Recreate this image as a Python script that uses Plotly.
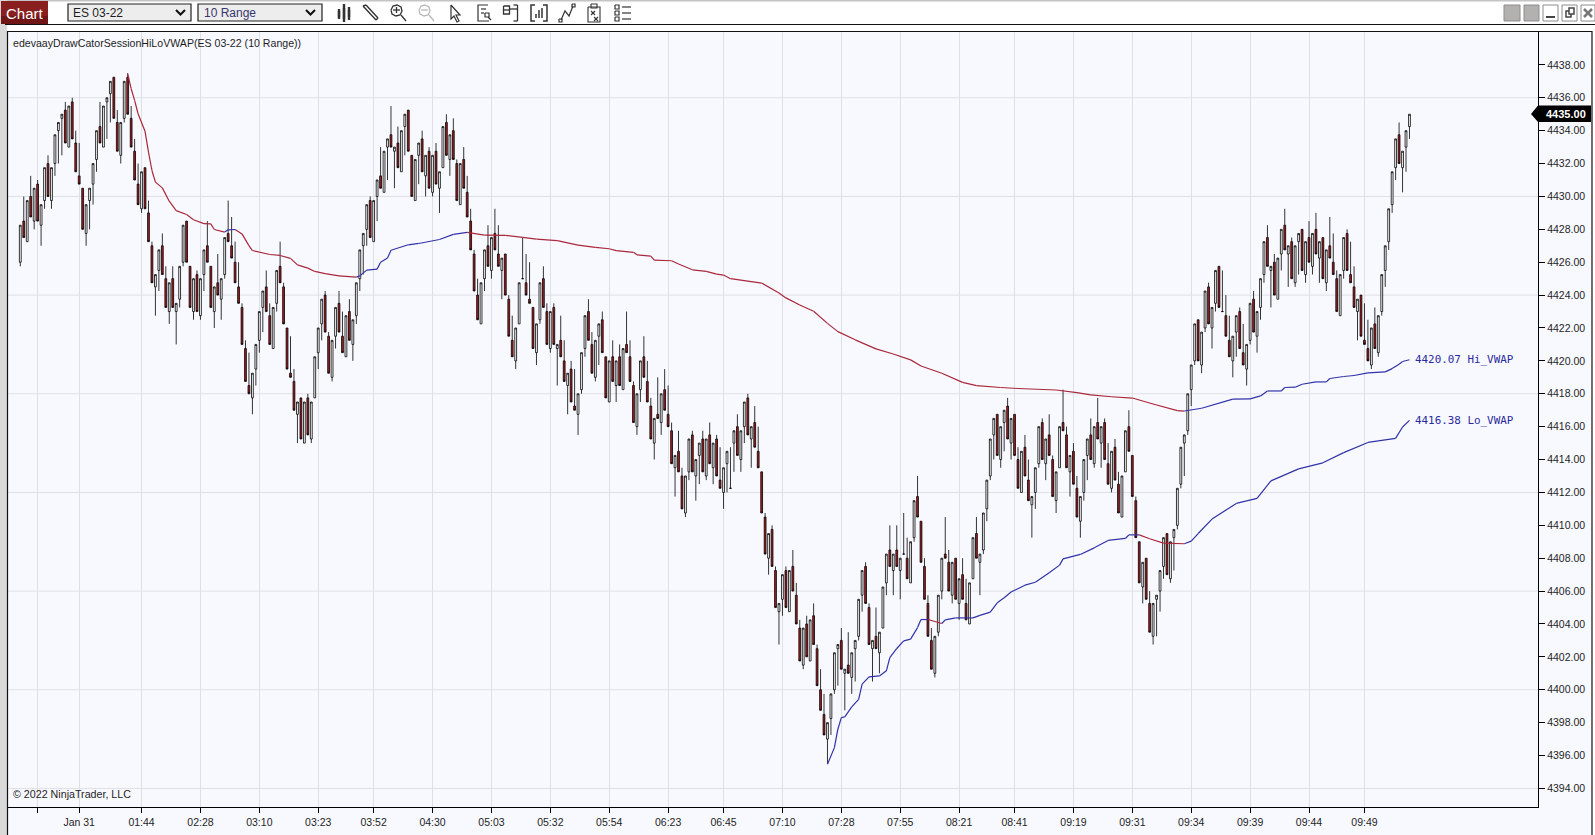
import plotly.graph_objects as go

# ES 03-22, 10 Range bars
opens = [
    4426, 4428.5, 4427.25, 4430, 4428.5, 4430.75, 4428.25, 4429.75, 4432, 4429.75,
    4432, 4434, 4434.75, 4435.25, 4433, 4435.75, 4433.25, 4431.25, 4430.5, 4427.75,
    4429.75, 4430.75, 4432.25, 4434.25, 4433, 4435.75, 4436.25, 4437.25, 4434.5, 4432.5,
    4434.75, 4437.25, 4434.75, 4432.75, 4430.75, 4429.25, 4431.75, 4429, 4427, 4424.5,
    4425.5, 4427, 4425, 4423, 4425, 4423, 4423.75, 4426, 4428.5, 4425.75,
    4423, 4425.25, 4422.75, 4425.25, 4427, 4425.75, 4423, 4424.75, 4423.75, 4425.25,
    4427.75, 4427, 4426, 4424.5, 4423.25, 4420.75, 4418.5, 4417.75, 4419.5, 4421.25,
    4423.25, 4424.5, 4422.75, 4420.75, 4423.5, 4425.75, 4424.5, 4422, 4419.25, 4418.75,
    4416.75, 4417.75, 4415, 4417.75, 4415.25, 4417.75, 4420.5, 4422.25, 4424, 4421.5,
    4419, 4421.5, 4423.5, 4421.5, 4420.25, 4423, 4421, 4422.75, 4425, 4427,
    4428, 4429.75, 4427.25, 4430, 4431.25, 4430.25, 4433, 4433.75, 4432.75, 4433.25,
    4431.5, 4434.25, 4435.25, 4432.5, 4429.75, 4432.5, 4433.5, 4431.25, 4432.75, 4430.25,
    4432.75, 4430.5, 4431.75, 4434.5, 4432.25, 4434, 4432, 4429.5, 4432.25, 4430.25,
    4428.5, 4426.5, 4424, 4422.25, 4425, 4427, 4425.5, 4427.75, 4426.5, 4425.5,
    4426.5, 4423.75, 4421.25, 4420, 4422.25, 4425, 4424.75, 4423.75, 4423.25, 4420.5,
    4422.5, 4425, 4423, 4420.75, 4423.25, 4420.75, 4421.25, 4420, 4418.5, 4419.5,
    4417.25, 4416.75, 4418.25, 4420.75, 4423, 4421, 4419, 4421.5, 4422.5, 4420.25,
    4417.5, 4420.25, 4418.5, 4420.25, 4418.25, 4421, 4420.25, 4418.5, 4416, 4418.25,
    4420.25, 4418.75, 4417.25, 4415, 4416.75, 4416.25, 4418.25, 4416.75, 4415.75, 4413.5,
    4414.5, 4413, 4410.75, 4413.25, 4415.5, 4413, 4414.25, 4415.25, 4413, 4415.5,
    4413.5, 4415.25, 4412.75, 4412, 4413.75, 4412.25, 4415, 4416, 4414, 4416,
    4417.75, 4415.25, 4416.25, 4414.5, 4413.25, 4410.5, 4408, 4409.75, 4407.25, 4404.75,
    4405.5, 4407.25, 4404.75, 4407.5, 4405.75, 4403.75, 4401.5, 4404, 4401.75, 4404.5,
    4402.5, 4400, 4398.5, 4397, 4398.25, 4400, 4402.5, 4403, 4401, 4401.5,
    4400.75, 4402.5, 4403.25, 4405.75, 4407.5, 4405, 4402.5, 4403.25, 4402.25, 4403.75,
    4406.5, 4408.5, 4407.25, 4408.5, 4407.25, 4408.25, 4408, 4406.5, 4409.25, 4411.75,
    4410.25, 4407.5, 4405.25, 4403, 4401, 4403.5, 4406, 4408.25, 4407.75, 4405.75,
    4408, 4405.25, 4407, 4405.25, 4404, 4406.75, 4409.5, 4407.75, 4408.5, 4411,
    4413, 4415.5, 4416.75, 4414, 4416.25, 4417.25, 4415, 4416.75, 4414, 4412,
    4414.75, 4412.75, 4411.25, 4412, 4413.75, 4416.25, 4413.75, 4415.5, 4414, 4411.5,
    4413.5, 4416.25, 4415.5, 4413.25, 4414.5, 4412.25, 4410.25, 4412, 4414.25, 4415.5,
    4413.75, 4416.25, 4415, 4416.25, 4413.75, 4412.25, 4414.75, 4412.5, 4410.5, 4413.25,
    4416, 4414.25, 4411.5, 4409, 4406.25, 4408, 4405.25, 4403.25, 4405.5, 4406,
    4407.5, 4409.5, 4406.75, 4409.25, 4410, 4412.5, 4415, 4415.75, 4418.25, 4420,
    4422.5, 4419.75, 4422, 4424.5, 4422, 4423.5, 4425.75, 4423, 4422.75, 4421.25,
    4420, 4421.75, 4423, 4420.5, 4419.5, 4421.25, 4423.75, 4421.5, 4423.25, 4425.25,
    4427.5, 4425.5, 4426, 4423.75, 4426.5, 4428.25, 4426.5, 4427.25, 4424.75, 4427.25,
    4428, 4425.25, 4427.5, 4425.75, 4428, 4426.25, 4427.5, 4424.75, 4427, 4426,
    4425, 4422.75, 4425.5, 4427.75, 4425.25, 4424.5, 4423, 4424, 4421.25, 4420.75,
    4419.75, 4422.25, 4420.5, 4423, 4425.5, 4427.25, 4429.5, 4431.75, 4433.75, 4431.75, 4433, 4434.25,
]
highs = [
    4428.25, 4430, 4429.75, 4431.25, 4430.5, 4431, 4429.5, 4431.75, 4432.5, 4431.75,
    4433.75, 4434.5, 4435, 4435.75, 4435.5, 4436, 4434, 4433.25, 4430.5, 4429.5,
    4430.5, 4432, 4434, 4435.75, 4435.5, 4436, 4437, 4437.25, 4435.25, 4434.5,
    4437, 4437.5, 4435.5, 4433.5, 4432, 4431.5, 4431.75, 4429.75, 4427.25, 4425.25,
    4426.75, 4427.75, 4425.75, 4424.75, 4425.75, 4423.5, 4425.75, 4428.25, 4428.5, 4425.75,
    4425, 4425.5, 4425, 4426.75, 4428.5, 4425.75, 4424.5, 4426.5, 4425, 4427.5,
    4429.75, 4428.75, 4427.25, 4426, 4423.5, 4421.25, 4420.5, 4419.25, 4421, 4423,
    4424.25, 4425.5, 4423.5, 4423.25, 4425.5, 4427.25, 4424.75, 4422, 4421.5, 4419.5,
    4417.5, 4417.75, 4417.5, 4418, 4417.5, 4420.25, 4422, 4423.75, 4424.25, 4421.75,
    4421.25, 4423.25, 4424.25, 4423, 4422.75, 4423.75, 4422.5, 4424.75, 4426.75, 4427.75,
    4429.5, 4430, 4429.75, 4431, 4433, 4432.75, 4433.5, 4435.5, 4433, 4434.25,
    4434, 4435, 4435.25, 4432.5, 4432.25, 4433.25, 4434, 4432.5, 4433, 4432.5,
    4433.25, 4431.5, 4434.25, 4435, 4433.75, 4434.75, 4432.25, 4432, 4433, 4431.25,
    4429.25, 4426.75, 4425, 4424.75, 4426.75, 4428.25, 4427.5, 4429.25, 4428.25, 4426.25,
    4426.5, 4424, 4422.75, 4422, 4424.75, 4427.5, 4426.5, 4426, 4423.25, 4422.25,
    4424.75, 4425.75, 4423.5, 4423, 4423.5, 4421, 4422.75, 4421.25, 4419.25, 4420,
    4419.5, 4418, 4420.5, 4422.75, 4423.75, 4421.75, 4421.25, 4422.25, 4423, 4420.25,
    4420, 4421.25, 4420, 4421, 4420.75, 4423, 4421.25, 4418.75, 4418, 4420,
    4421.5, 4420, 4417.75, 4416.5, 4419, 4418, 4419.5, 4418.5, 4416.25, 4414.25,
    4415.75, 4413.5, 4413, 4415.25, 4415.75, 4414, 4415, 4415.75, 4415.25, 4416.25,
    4415, 4415.5, 4414.75, 4413.5, 4414.5, 4414.75, 4415.75, 4416.75, 4415.75, 4417.5,
    4418, 4416, 4417.25, 4416, 4413.25, 4410.75, 4409.5, 4410, 4407.5, 4405.25,
    4407, 4407.5, 4407.25, 4408.5, 4406.5, 4404.25, 4403.75, 4404.5, 4404.25, 4405.25,
    4402.75, 4401.25, 4399.75, 4398, 4399.75, 4402.25, 4402.75, 4403.75, 4401.25, 4403.5,
    4402.25, 4403, 4405.5, 4407.25, 4407.75, 4405.25, 4403, 4405, 4403.5, 4406.25,
    4408.25, 4410, 4408.25, 4410, 4408, 4410.75, 4409.25, 4409, 4411.5, 4413,
    4410.25, 4408, 4405.75, 4403.75, 4403.25, 4405.75, 4408, 4410.5, 4408.5, 4407.75,
    4408, 4406.75, 4408, 4406.75, 4406.5, 4409.25, 4410.5, 4408.25, 4410.75, 4412.75,
    4415.25, 4416.5, 4416.75, 4416, 4417, 4417.75, 4416.5, 4416.75, 4414.75, 4414.5,
    4415.5, 4414, 4411.75, 4413.5, 4416, 4416.5, 4415.25, 4416.75, 4414.25, 4413.25,
    4416, 4418.25, 4416, 4414.25, 4415, 4413, 4411.75, 4414, 4415.25, 4416.5,
    4416, 4417.75, 4416, 4416.5, 4415, 4414.5, 4415.25, 4413.25, 4413, 4415.75,
    4417, 4414.25, 4411.75, 4409, 4407.75, 4408, 4406, 4405.25, 4405.75, 4407.25,
    4409.25, 4409.5, 4409, 4409.75, 4412.25, 4414.75, 4415.5, 4418, 4419.75, 4422.25,
    4422.5, 4421.75, 4424.25, 4424.75, 4423.25, 4425.5, 4425.75, 4425.5, 4424, 4422.75,
    4421.5, 4422.75, 4423.25, 4422.25, 4421, 4423.5, 4424.25, 4423, 4425, 4427.25,
    4428.25, 4425.75, 4426.5, 4426.25, 4428, 4429.25, 4427, 4427.5, 4427, 4427.75,
    4428, 4427.25, 4428.5, 4427.75, 4429, 4427.25, 4427.5, 4426.75, 4428.75, 4427.75,
    4425.5, 4425.25, 4427.5, 4428, 4427.25, 4425.75, 4423.75, 4424, 4423.5, 4422.5,
    4422, 4423.25, 4422.75, 4425.25, 4427, 4429.25, 4431.5, 4433.5, 4434.5, 4432.75, 4434, 4435,
]
lows = [
    4425.75, 4427.5, 4427.25, 4428.75, 4428, 4428.5, 4427, 4429.25, 4430, 4429.25,
    4431.25, 4432, 4432.5, 4433.25, 4433, 4433.5, 4431.5, 4430.75, 4428, 4427,
    4428, 4429.5, 4431.5, 4433.25, 4433, 4433.5, 4434.5, 4434.75, 4432.75, 4432,
    4434.5, 4435, 4433, 4431, 4429.5, 4429, 4429.25, 4427.25, 4424.75, 4422.75,
    4424.25, 4425.25, 4423.25, 4422.25, 4423.25, 4421, 4423.25, 4425.75, 4426, 4423.25,
    4422.5, 4423, 4422.5, 4424.25, 4426, 4423.25, 4422, 4424, 4422.5, 4425,
    4427.25, 4426.25, 4424.75, 4423.5, 4421, 4418.75, 4418, 4416.75, 4418.5, 4420.5,
    4421.75, 4423, 4421, 4420.75, 4423, 4424.75, 4422.25, 4419.5, 4419, 4417,
    4415, 4415.25, 4415, 4415.5, 4415, 4417.75, 4419.5, 4421.25, 4421.75, 4419.25,
    4418.75, 4420.75, 4421.75, 4420.5, 4420.25, 4421.25, 4420, 4422.25, 4424.25, 4425.25,
    4427, 4427.5, 4427.25, 4428.5, 4430.5, 4430.25, 4431, 4433, 4430.5, 4431.75,
    4431.5, 4432.5, 4432.75, 4430, 4429.75, 4430.75, 4431.5, 4430, 4430.5, 4430,
    4430.75, 4429, 4431.75, 4432.5, 4431.25, 4432.25, 4429.75, 4429.5, 4430.5, 4428.75,
    4426.75, 4424.25, 4422.5, 4422.25, 4424.25, 4425.75, 4425, 4426.75, 4425.75, 4423.75,
    4424, 4421.5, 4420.25, 4419.5, 4422.25, 4425, 4424, 4423.5, 4420.75, 4419.75,
    4422.25, 4423.25, 4421, 4420.5, 4421, 4418.5, 4420.25, 4418.75, 4416.75, 4417.5,
    4417, 4415.5, 4418, 4420.25, 4421.25, 4419.25, 4418.75, 4419.75, 4420.5, 4417.75,
    4417.5, 4418.75, 4417.5, 4418.5, 4418.25, 4420.5, 4418.75, 4416.25, 4415.5, 4417.5,
    4419, 4417.5, 4415.25, 4414, 4416.5, 4415.5, 4417, 4416, 4413.75, 4411.75,
    4413.25, 4411, 4410.5, 4412.75, 4413.25, 4411.5, 4412.5, 4413.25, 4412.75, 4413.75,
    4412.5, 4413, 4412.25, 4411, 4412, 4412.25, 4413.25, 4414.25, 4413.25, 4415,
    4415.5, 4413.5, 4414.75, 4413.5, 4410.75, 4408.25, 4407, 4407.5, 4405, 4402.75,
    4404.5, 4405, 4404.75, 4406, 4404, 4401.75, 4401.25, 4402, 4401.75, 4402.75,
    4400.25, 4398.75, 4397.25, 4395.5, 4397.25, 4399.75, 4400.25, 4401.25, 4398.75, 4401,
    4399.75, 4400.5, 4403, 4404.75, 4405.25, 4402.75, 4400.5, 4402.5, 4401, 4403.75,
    4405.75, 4407.5, 4405.75, 4407.5, 4405.5, 4408.25, 4406.75, 4406.5, 4409, 4410.5,
    4407.75, 4405.5, 4403.25, 4401.25, 4400.75, 4403.25, 4405.5, 4408, 4406, 4405.25,
    4405.5, 4404.25, 4405.5, 4404.25, 4404, 4406.75, 4408, 4405.75, 4408.25, 4410.25,
    4412.75, 4414, 4414.25, 4413.5, 4414.5, 4415.25, 4414, 4414.25, 4412.25, 4412,
    4413, 4411.5, 4409.25, 4411, 4413.5, 4414, 4412.75, 4414.25, 4411.75, 4410.75,
    4413.5, 4415.75, 4413.5, 4411.75, 4412.5, 4410.5, 4409.25, 4411.5, 4412.75, 4414,
    4413.5, 4415.25, 4413.5, 4414, 4412.5, 4412, 4412.75, 4410.75, 4410.5, 4413.25,
    4414.5, 4411.75, 4409.25, 4406.5, 4405.25, 4405.5, 4403.5, 4402.75, 4403.25, 4404.75,
    4406.75, 4407, 4406.5, 4407.25, 4409.75, 4412.25, 4413, 4415.5, 4417.25, 4419.75,
    4420, 4419.25, 4421.75, 4422.25, 4420.75, 4423, 4423.25, 4423, 4421.5, 4420.25,
    4419, 4420.25, 4420.75, 4419.75, 4418.5, 4421, 4421.75, 4420.5, 4422.5, 4424.75,
    4425.75, 4423.25, 4424, 4423.75, 4425.5, 4426.75, 4424.5, 4425, 4424.5, 4425.25,
    4425.5, 4424.75, 4426, 4425.25, 4426.5, 4424.75, 4425, 4424.25, 4426.25, 4425.25,
    4423, 4422.75, 4425, 4425.5, 4424.75, 4423.25, 4421.25, 4421.5, 4421, 4420,
    4419.5, 4420.75, 4420.25, 4422.75, 4424.5, 4426.75, 4429, 4431, 4432, 4430.25, 4431.5, 4433.5,
]
closes = [
    4428.25, 4427.5, 4429.75, 4428.75, 4430.5, 4428.5, 4429.5, 4431.75, 4430, 4431.75,
    4433.75, 4434.5, 4435, 4433.25, 4435.5, 4433.5, 4431.5, 4430.75, 4428, 4429.5,
    4430.5, 4432, 4434, 4433.25, 4435.5, 4436, 4437, 4434.75, 4432.75, 4434.5,
    4437, 4435, 4433, 4431, 4429.5, 4431.5, 4429.25, 4427.25, 4424.75, 4425.25,
    4426.75, 4425.25, 4423.25, 4424.75, 4423.25, 4423.5, 4425.75, 4428.25, 4426, 4423.25,
    4425, 4423, 4425, 4426.75, 4426, 4423.25, 4424.5, 4424, 4425, 4427.5,
    4427.25, 4426.25, 4424.75, 4423.5, 4421, 4418.75, 4418, 4419.25, 4421, 4423,
    4424.25, 4423, 4421, 4423.25, 4425.5, 4424.75, 4422.25, 4419.5, 4419, 4417,
    4417.5, 4415.25, 4417.5, 4415.5, 4417.5, 4420.25, 4422, 4423.75, 4421.75, 4419.25,
    4421.25, 4423.25, 4421.75, 4420.5, 4422.75, 4421.25, 4422.5, 4424.75, 4426.75, 4427.75,
    4429.5, 4427.5, 4429.75, 4431, 4430.5, 4432.75, 4433.5, 4433, 4433, 4431.75,
    4434, 4435, 4432.75, 4430, 4432.25, 4433.25, 4431.5, 4432.5, 4430.5, 4432.5,
    4430.75, 4431.5, 4434.25, 4432.5, 4433.75, 4432.25, 4429.75, 4432, 4430.5, 4428.75,
    4426.75, 4424.25, 4422.5, 4424.75, 4426.75, 4425.75, 4427.5, 4426.75, 4425.75, 4426.25,
    4424, 4421.5, 4420.25, 4422, 4424.75, 4425, 4424, 4423.5, 4420.75, 4422.25,
    4424.75, 4423.25, 4421, 4423, 4421, 4421, 4420.25, 4418.75, 4419.25, 4417.5,
    4417, 4418, 4420.5, 4422.75, 4421.25, 4419.25, 4421.25, 4422.25, 4420.5, 4417.75,
    4420, 4418.75, 4420, 4418.5, 4420.75, 4420.5, 4418.75, 4416.25, 4418, 4420,
    4419, 4417.5, 4415.25, 4416.5, 4416.5, 4418, 4417, 4416, 4413.75, 4414.25,
    4413.25, 4411, 4413, 4415.25, 4413.25, 4414, 4415, 4413.25, 4415.25, 4413.75,
    4415, 4413, 4412.25, 4413.5, 4414.5, 4412.25, 4415.75, 4414.25, 4415.75, 4417.5,
    4415.5, 4416, 4414.75, 4413.5, 4410.75, 4408.25, 4409.5, 4407.5, 4405, 4405.25,
    4407, 4405, 4407.25, 4406, 4404, 4401.75, 4403.75, 4402, 4404.25, 4402.75,
    4400.25, 4398.75, 4397.25, 4398, 4399.75, 4402.25, 4402.75, 4401.25, 4401.25, 4401,
    4402.25, 4403, 4405.5, 4407.25, 4405.25, 4402.75, 4403, 4402.5, 4403.5, 4406.25,
    4408.25, 4407.5, 4408.25, 4407.5, 4408, 4408.25, 4406.75, 4409, 4411.5, 4410.5,
    4407.75, 4405.5, 4403.25, 4401.25, 4403.25, 4405.75, 4408, 4408, 4406, 4407.75,
    4405.5, 4406.75, 4405.5, 4404.25, 4406.5, 4409.25, 4408, 4408.25, 4410.75, 4412.75,
    4415.25, 4416.5, 4414.25, 4416, 4417, 4415.25, 4416.5, 4414.25, 4412.25, 4414.5,
    4413, 4411.5, 4411.75, 4413.5, 4416, 4414, 4415.25, 4414.25, 4411.75, 4413.25,
    4416, 4415.75, 4413.5, 4414.25, 4412.5, 4410.5, 4411.75, 4414, 4415.25, 4414,
    4416, 4415.25, 4416, 4414, 4412.5, 4414.5, 4412.75, 4410.75, 4413, 4415.75,
    4414.5, 4411.75, 4409.25, 4406.5, 4407.75, 4405.5, 4403.5, 4405.25, 4405.75, 4407.25,
    4409.25, 4407, 4409, 4409.75, 4412.25, 4414.75, 4415.5, 4418, 4419.75, 4422.25,
    4420, 4421.75, 4424.25, 4422.25, 4423.25, 4425.5, 4423.25, 4423, 4421.5, 4420.25,
    4421.5, 4422.75, 4420.75, 4419.75, 4421, 4423.5, 4421.75, 4423, 4425, 4427.25,
    4425.75, 4425.75, 4424, 4426.25, 4428, 4426.75, 4427, 4425, 4427, 4427.75,
    4425.5, 4427.25, 4426, 4427.75, 4426.5, 4427.25, 4425, 4426.75, 4426.25, 4425.25,
    4423, 4425.25, 4427.5, 4425.5, 4424.75, 4423.25, 4423.75, 4421.5, 4421, 4420,
    4422, 4420.75, 4422.75, 4425.25, 4427, 4429.25, 4431.5, 4433.5, 4432, 4432.75, 4434, 4435,
]
bars = list(range(len(closes)))

hi_bars = [
    31, 32, 33, 34, 36, 37, 38, 39, 41, 43, 45, 48, 50, 53, 55, 56, 59, 60, 62, 64, 66,
    67, 72, 75, 78, 80, 83, 85, 88, 92, 97, 98, 100, 103, 104, 106, 107, 112, 115, 121, 125, 129, 134,
    140, 145, 149, 155, 161, 166, 170, 172, 177, 178, 182, 183, 188, 190, 194, 198, 201, 203, 205, 214,
    219, 221, 225, 229, 233, 236, 241, 247, 252, 257, 260, 266, 272, 276, 283, 288,
    299, 305, 309, 315, 321, 327, 334, 336, 341,
    350, 355, 358, 360, 364, 365, 368, 370, 374, 377, 378, 382, 385, 389, 394, 396, 398, 399, 401,
]
hi_vwap = [
    4437.46, 4436.55, 4435.84, 4435.03, 4433.97, 4432.69, 4431.58, 4430.87, 4430.52, 4429.71, 4429.14,
    4428.9, 4428.58, 4428.35, 4428.33, 4427.99, 4427.83, 4427.97, 4427.99, 4427.72, 4427.01,
    4426.71, 4426.47, 4426.41, 4426.23, 4425.84, 4425.64, 4425.44, 4425.31, 4425.17, 4425.09, 4425.17,
    4425.52, 4425.58, 4426, 4426.25, 4426.73, 4427.06, 4427.14, 4427.38, 4427.69, 4427.81, 4427.65,
    4427.63, 4427.51, 4427.41, 4427.31, 4427.04, 4426.9, 4426.82, 4426.7, 4426.6, 4426.45, 4426.37,
    4426.13, 4426.09, 4425.89, 4425.54, 4425.44, 4425.28, 4425.22, 4425, 4424.73,
    4424.13, 4423.83, 4423.4, 4423.02, 4422.28, 4421.78, 4421.28, 4420.73, 4420.42, 4420.06, 4419.69,
    4419.25, 4418.69, 4418.5, 4418.38, 4418.32,
    4418.23, 4418.07, 4417.93, 4417.82, 4417.74, 4417.38, 4416.97, 4416.95, 4417.12,
    4417.67, 4417.69, 4417.87, 4418.17, 4418.17, 4418.38, 4418.4, 4418.58, 4418.72, 4418.72, 4418.93,
    4419.05, 4419.11, 4419.27, 4419.33, 4419.53, 4419.8, 4419.96, 4420.07,
]
lo_bars = [
    233, 235, 236, 237, 238, 240, 242, 243, 245, 248, 250, 251, 253, 255, 257, 259, 260, 262, 266, 267,
    270, 275, 277, 280, 282, 284, 286, 290, 293, 297, 300, 301, 306, 310, 314, 319, 320, 323, 326, 330,
    336, 338, 340, 344, 351, 357, 361, 369, 376, 382, 389, 397, 399, 401,
]
lo_vwap = [
    4395.47, 4396.48, 4397.6, 4398.31, 4398.35, 4398.96, 4399.42, 4400.34, 4400.78, 4400.84, 4401.15,
    4401.96, 4402.51, 4402.97, 4403.08, 4403.78, 4404.27, 4404.27, 4404.03, 4404.25, 4404.37, 4404.37,
    4404.52, 4404.72, 4405.29, 4405.59, 4405.94, 4406.36, 4406.54, 4407.11, 4407.58, 4407.96, 4408.23,
    4408.63, 4409.08, 4409.2, 4409.42, 4409.42, 4409.18, 4408.92, 4408.88, 4409.04, 4409.5, 4410.38,
    4411.33, 4411.64, 4412.7, 4413.43, 4413.8, 4414.42, 4415.04, 4415.29, 4415.98, 4416.38,
]

tick_bars = [5, 17, 35, 52, 69, 86, 102, 119, 136, 153, 170, 187, 203, 220, 237, 254, 271, 287, 304, 321, 338, 355, 372, 388]
tick_labels = ['', 'Jan 31', '01:44', '02:28', '03:10', '03:23', '03:52', '04:30', '05:03', '05:32', '05:54', '06:23',
               '06:45', '07:10', '07:28', '07:55', '08:21', '08:41', '09:19', '09:31', '09:34', '09:39', '09:44', '09:49']
price_ticks = list(range(4394, 4440, 2))
grid_prices = [4394, 4400, 4406, 4412, 4418, 4424, 4430, 4436]

BG = '#F8F9FF'
GRID = '#DFE0E6'
RED = '#A9283A'
BLUE = '#3232A8'
TXT = '#1E1E1E'
FONT = 'Liberation Sans'

W, H = 1595, 835
L, R, T, B = 8, 1538, 32, 807


# page pixels to paper fractions, for the window chrome round the chart
def px(x):
    return (x - L) / (R - L)


def py(y):
    return (B - y) / (B - T)


def rect(x0, y0, x1, y1, fill, line=None, lw=1):
    return dict(type='rect', xref='paper', yref='paper', x0=px(x0), x1=px(x1), y0=py(y0), y1=py(y1),
                fillcolor=fill, line=dict(color=line or fill, width=lw if line else 0))


def poly(points, color='#333333', lw=1, fill=None, close=False):
    d = 'M' + ' L'.join(f'{px(x):.5f},{py(y):.5f}' for x, y in points) + (' Z' if close else '')
    return dict(type='path', xref='paper', yref='paper', path=d, fillcolor=fill,
                line=dict(color=color, width=lw))


def label(x, y, text, size=10.5, color=TXT, anchor='left', family=FONT):
    return dict(xref='paper', yref='paper', x=px(x), y=py(y), text=text, showarrow=False, xanchor=anchor,
                yanchor='middle', font=dict(family=family, size=size, color=color), borderpad=0, borderwidth=0)


def split_by_slope(xs, ys):
    up_x, up_y, dn_x, dn_y = [], [], [], []
    for i in range(len(xs) - 1):
        if ys[i + 1] >= ys[i]:
            up_x += [xs[i], xs[i + 1], None]
            up_y += [ys[i], ys[i + 1], None]
        else:
            dn_x += [xs[i], xs[i + 1], None]
            dn_y += [ys[i], ys[i + 1], None]
    return up_x, up_y, dn_x, dn_y


fig = go.Figure()
fig.add_trace(go.Candlestick(
    x=bars, open=opens, high=highs, low=lows, close=closes,
    increasing=dict(fillcolor='#FFFFFF', line=dict(color='#000000', width=0.8)),
    decreasing=dict(fillcolor='#AA1A1E', line=dict(color='#000000', width=0.8)),
    whiskerwidth=0, showlegend=False, hoverinfo='skip'))

for xs, ys in [(hi_bars, hi_vwap), (lo_bars, lo_vwap)]:
    up_x, up_y, dn_x, dn_y = split_by_slope(xs, ys)
    fig.add_trace(go.Scatter(x=up_x, y=up_y, mode='lines', line=dict(color=BLUE, width=1.2), showlegend=False, hoverinfo='skip'))
    fig.add_trace(go.Scatter(x=dn_x, y=dn_y, mode='lines', line=dict(color=RED, width=1.2), showlegend=False, hoverinfo='skip'))

# only every third price label gets a gridline
shapes = [dict(type='line', xref='paper', yref='y', x0=0, x1=1, y0=p, y1=p, layer='below',
               line=dict(color=GRID, width=1)) for p in grid_prices]

shapes += [
    rect(0, 0, W, 31, '#FFFFFF'),
    rect(0, 0, W, 1.5, '#C4C4C4'),
    rect(0, 0, 7, H, '#D9D9D9'),
    rect(1592.5, 24, W, H, '#FFFFFF'),
    poly([(5, 24.5), (W, 24.5)], '#111111', 1.2),
    poly([(7, 31.5), (1592, 31.5), (1592, H)], '#111111', 1.2),
    poly([(7.5, 31), (7.5, H)], '#111111', 1.2),
    rect(1, 1, 48, 24, '#8A1F1F'),
    rect(1, 16, 48, 24, '#701616'),
    rect(68, 4, 191, 21, '#EDEDED', '#222222', 1.2),
    rect(198, 4, 322, 21, '#EDEDED', '#222222', 1.2),
    poly([(176, 10), (180.5, 14.5), (185, 10)], '#111111', 2),
    poly([(306, 10), (310.5, 14.5), (315, 10)], '#111111', 2),
    # window buttons
    rect(1504, 5, 1520, 21, '#B3B0B0', '#8E8C8C'),
    rect(1524, 5, 1539, 21, '#B3B0B0', '#8E8C8C'),
    rect(1543, 5, 1558, 21, '#FFFFFF', '#8E8C8C'),
    rect(1562, 5, 1577, 21, '#FFFFFF', '#8E8C8C'),
    rect(1581, 5, 1595, 21, '#FFFFFF', '#8E8C8C'),
    poly([(1546, 17), (1555, 17)], '#444444', 2),
    rect(1566, 11, 1571, 17, '#FFFFFF', '#444444', 1.5),
    rect(1569, 8, 1574, 14, '#FFFFFF', '#444444', 1.5),
    poly([(1584, 9), (1592, 17)], '#777777', 2.5),
    poly([(1592, 9), (1584, 17)], '#777777', 2.5),
    # price marker
    poly([(1531, 114), (1538, 105.5), (1591, 105.5), (1591, 122), (1538, 122)], '#000000', 0, '#000000', True),
]

# toolbar icons, as rough outlines
icons = [
    (344, [[(-5, -4), (-5, 6)], [(0, -9), (0, 9)], [(5, -6), (5, 7)], [(-5, -2), (-5, 4)], [(0, -5), (0, 6)], [(5, -3), (5, 4)]], 2.4),
    (370, [[(-7, -7), (6, 7)], [(-4, -8), (8, 5)], [(-7, -7), (-4, -8)], [(6, 7), (8, 5)]], 1.4),
    (398, [[(-7, -3), (-5, -7), (-1, -8), (3, -6), (4, -2), (2, 2), (-2, 3), (-6, 1), (-7, -3)], [(3, 2), (8, 8)], [(-5, -3), (2, -3)], [(-1.5, -6), (-1.5, 0)]], 1.3),
    (454, [[(-3, -8), (-3, 6), (0, 3), (3, 9), (5, 8), (2, 2), (6, 2), (-3, -8)]], 1.2),
    (483, [[(5, -8), (-5, -8), (-5, 8), (6, 8)], [(-2, -4), (3, -4)], [(-2, 0), (1, 0)], [(2, 0), (6, 0), (6, 4), (2, 4), (2, 0)], [(5, 4), (8, 7)]], 1.2),
    (510.5, [[(-7, -7), (-1, -7), (-1, 1), (-7, 1), (-7, -7)], [(-7, -3), (-1, -3)], [(-1, -4), (7, -4)], [(7, -8), (7, 8)], [(3, -8), (7, -8)], [(3, 8), (7, 8)]], 1.3),
    (539, [[(-4, -8), (-8, -8), (-8, 8), (-4, 8)], [(4, -8), (8, -8), (8, 8), (4, 8)], [(-3, 5), (-3, 1)], [(0, 5), (0, -3)], [(3, 5), (3, -5)]], 1.5),
    (567, [[(-6, 7), (-2, -2), (2, 3), (6, -7)], [(-8, 6), (-5, 6), (-5, 9), (-8, 9), (-8, 6)], [(5, -9), (8, -9), (8, -6), (5, -6), (5, -9)]], 1.2),
    (594, [[(-6, -6), (6, -6), (6, 9), (-6, 9), (-6, -6)], [(-3, -9), (3, -9), (3, -5), (-3, -5), (-3, -9)], [(-3, -2), (1, 2)], [(1, -2), (-3, 2)], [(0, 4), (4, 8)], [(4, 4), (0, 8)]], 1.1),
    (623, [[(-8, -8), (-4, -8), (-4, -4), (-8, -4), (-8, -8)], [(-8, -2), (-4, -2), (-4, 2), (-8, 2), (-8, -2)], [(-8, 4), (-4, 4), (-4, 8), (-8, 8), (-8, 4)], [(-1, -6), (8, -6)], [(-1, 0), (8, 0)], [(-1, 6), (8, 6)]], 1.2),
    (426, [[(-7, -3), (-5, -7), (-1, -8), (3, -6), (4, -2), (2, 2), (-2, 3), (-6, 1), (-7, -3)], [(3, 2), (8, 8)], [(-5, -3), (2, -3)]], 1.3),
]
for cx, lines, lw in icons:
    color = '#B8B8B8' if cx == 426 else '#333333'
    for pts in lines:
        shapes.append(poly([(cx + a, 13 + b) for a, b in pts], color, lw))

notes = [
    label(25, 13, 'Chart', 15, '#FFFFFF', 'center'),
    label(73, 13, 'ES 03-22', 12),
    label(204, 13, '10 Range', 12, '#39356E'),
    label(13, 42.5, 'edevaayDrawCatorSessionHiLoVWAP(ES 03-22 (10 Range))', 10.6),
    label(13, 794, '© 2022 NinjaTrader, LLC', 10.7),
    label(1566, 114, f'<b>{closes[-1]:.2f}</b>', 11, '#FFFFFF', 'center'),
    dict(x=bars[-1] + 1.0, y=hi_vwap[-1], xref='x', yref='y', text=f'{hi_vwap[-1]:.2f} Hi_VWAP', showarrow=False,
         xanchor='left', font=dict(family='DejaVu Sans Mono', size=10.9, color='#2A2A9E')),
    dict(x=bars[-1] + 1.0, y=lo_vwap[-1], xref='x', yref='y', text=f'{lo_vwap[-1]:.2f} Lo_VWAP', showarrow=False,
         xanchor='left', font=dict(family='DejaVu Sans Mono', size=10.9, color='#2A2A9E')),
]

fig.update_layout(
    width=W, height=H, autosize=False,
    margin=dict(l=L, r=W - R, t=T, b=H - B, pad=0),
    paper_bgcolor=BG, plot_bgcolor=BG,
    showlegend=False, shapes=shapes, annotations=notes, hovermode=False, boxgap=0.25,
    xaxis=dict(range=[-3.55, 438.1], rangeslider=dict(visible=False), tickmode='array', tickvals=tick_bars, ticktext=tick_labels,
               showgrid=True, gridcolor=GRID, gridwidth=1, zeroline=False, showline=True, linecolor='#000000', linewidth=1.2,
               ticks='outside', ticklen=5, tickcolor='#000000', tickfont=dict(family=FONT, size=10.5, color=TXT)),
    yaxis=dict(range=[4392.87, 4440.0], side='right', tickmode='array', tickvals=price_ticks, tickformat='.2f',
               showgrid=False, zeroline=False, showline=True, linecolor='#000000', linewidth=1.2,
               ticks='outside', ticklen=6, tickcolor='#000000', tickfont=dict(family=FONT, size=10.5, color=TXT)),
)

fig.write_html("out.html", config=dict(displayModeBar=False),
               post_script="document.body.style.margin='0';document.body.style.overflow='hidden';")
